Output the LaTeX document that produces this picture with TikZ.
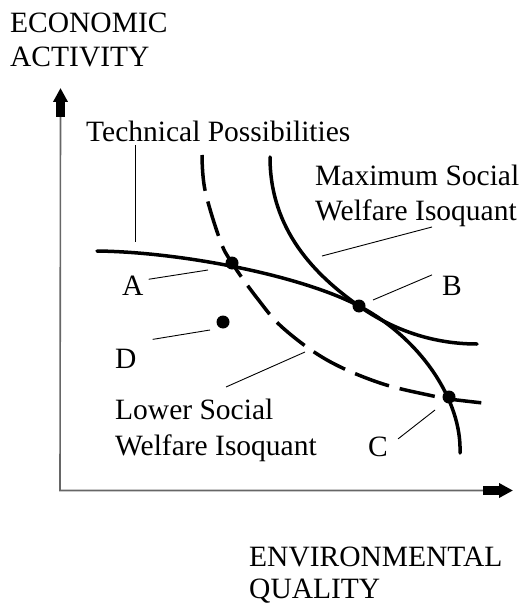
\documentclass[tikz,border=0pt]{standalone}
\usepackage{fontspec}
\setmainfont{Liberation Serif}
\usetikzlibrary{arrows.meta,positioning}

\begin{document}
\begin{tikzpicture}[x=1pt,y=-1pt,
  lbl/.style={inner sep=0pt,anchor=base west,font=\fontsize{29.5}{34}\selectfont},
  curve/.style={line width=3.5pt,line cap=round},
  lowcurve/.style={line width=3.5pt,dash pattern=on 36pt off 11pt},
  lead/.style={line width=0.9pt},
  axis/.style={line width=1.6pt,black!60},
  bigarrow/.style={line width=9pt,-{Triangle[length=14pt,width=14pt]}},
  pt/.style={circle,fill=black,inner sep=0pt,minimum size=13pt}]
\useasboundingbox (0,0) rectangle (529,604);
\coordinate (o) at (60,490.5);
\coordinate (ybase) at (60.5,117);
\coordinate (ytip) at (60.5,88);
\coordinate (xbase) at (483,490.5);
\coordinate (xtip) at (513,490.5);
\draw[axis] (ybase) -- (o) -- (xbase);
\draw[bigarrow] (ybase) -- (ytip);
\draw[bigarrow] (xbase) -- (xtip);
\node[lbl] (econ1) at (10,33) {ECONOMIC};
\node[lbl] (econ2) at (10,67) {ACTIVITY};
\node[lbl] (env1) at (249,566) {ENVIRONMENTAL};
\node[lbl] (env2) at (249,598) {QUALITY};
\draw[curve] (97,251) .. controls (180,252) and (300,275) .. (359,306)
  .. controls (420,338) and (462,400) .. (460,453);
\draw[curve] (270,157) .. controls (270,230) and (315,275) .. (359,306)
  .. controls (390,328) and (430,344) .. (477,344);
\draw[lowcurve] plot[smooth,tension=0.6] coordinates {(202,155) (205,190) (220,240) (232,263) (257,298) (283,328) (327,360) (380,383) (433,396) (449,399) (483,403)};
\node[pt] (ptA) at (232,263) {};
\node[pt] (ptB) at (359,306) {};
\node[pt] (ptC) at (449,397) {};
\node[pt] (ptD) at (223,322) {};
\node[lbl] (tech) at (86,142) {Technical Possibilities};
\node[lbl] (max1) at (315,185) {Maximum Social};
\node[lbl] (max2) at (315,220) {Welfare Isoquant};
\node[lbl] (low1) at (115,419) {Lower Social};
\node[lbl] (low2) at (115,455) {Welfare Isoquant};
\node[lbl] (labA) at (122,295) {A};
\node[lbl] (labB) at (442,295.5) {B};
\node[lbl] (labC) at (368,456.5) {C};
\node[lbl] (labD) at (115,368) {D};
\coordinate (techa) at (135,145);
\coordinate (techb) at (135,242);
\coordinate (maxa) at (432,227);
\coordinate (maxb) at (322,256);
\coordinate (lowa) at (305,352);
\coordinate (lowb) at (226,387);
\coordinate (leadA) at (208,270);
\coordinate (leadB) at (373,300);
\coordinate (leadC) at (435,410);
\coordinate (leadD) at (210,330);
\draw[lead] (techa) -- (techb);
\draw[lead] (maxa) -- (maxb);
\draw[lead] (lowa) -- (lowb);
\draw[lead] (labA.east) ++(5,-6) coordinate (fromA) (fromA) -- (leadA);
\draw[lead] (labB.west) ++(-10,-11) coordinate (fromB) (fromB) -- (leadB);
\draw[lead] (labC.east) ++(10,-8) coordinate (fromC) (fromC) -- (leadC);
\draw[lead] (labD.east) ++(16,-19) coordinate (fromD) (fromD) -- (leadD);
\end{tikzpicture}
\end{document}
